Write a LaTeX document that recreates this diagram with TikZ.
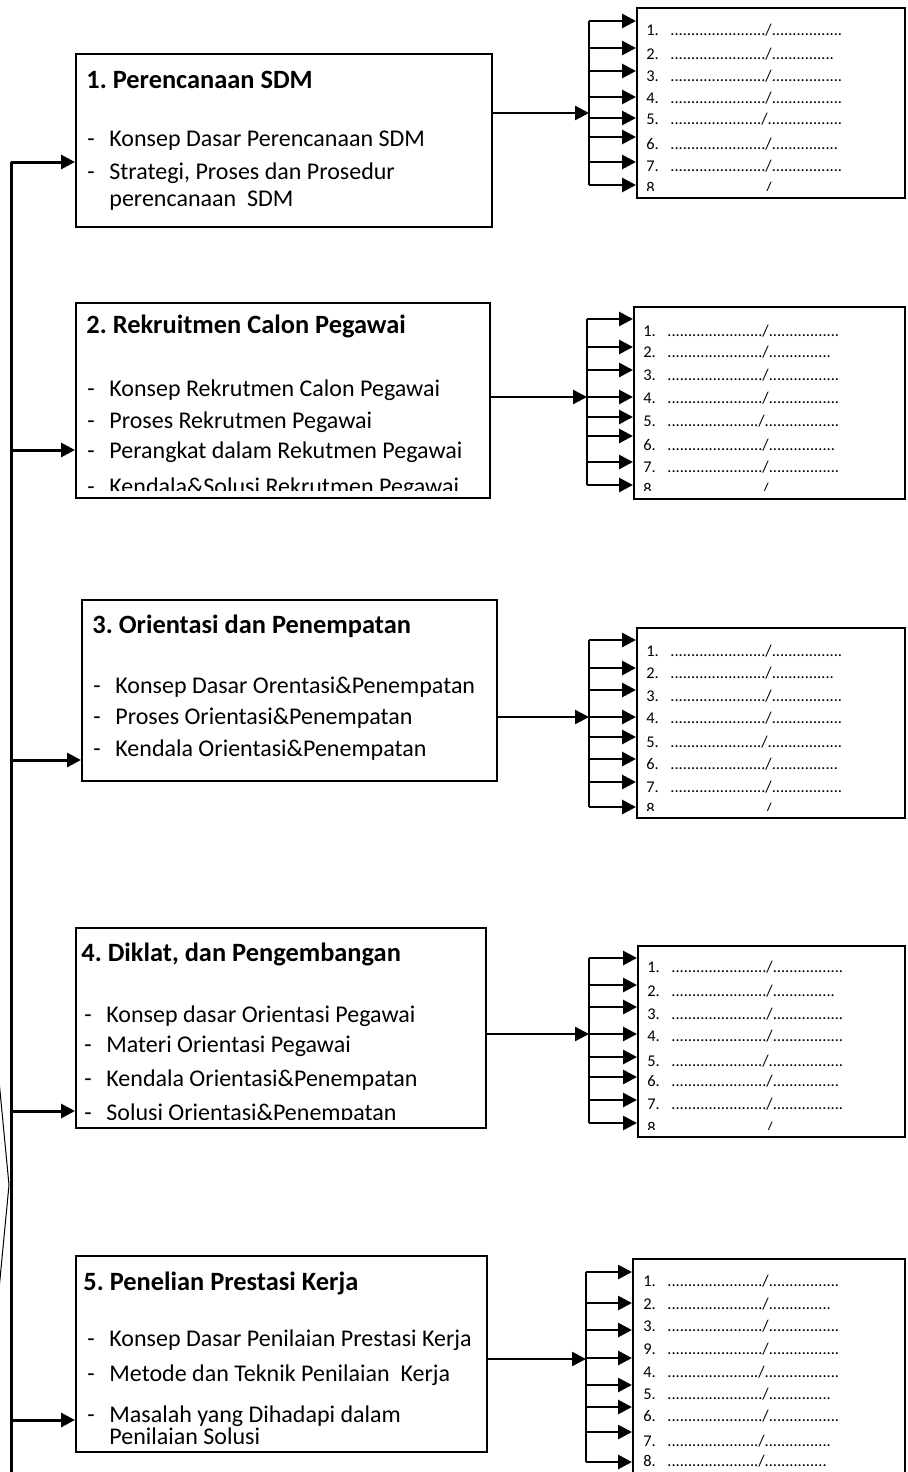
\documentclass[tikz,border=0pt]{standalone}
\usepackage{fontspec}
\setmainfont{Carlito}
\usetikzlibrary{arrows.meta,fit}
\ExplSyntaxOn
\newcommand\dotrun[1]{\prg_replicate:nn{#1}{.}}
\ExplSyntaxOff
\newcommand\dashitem[1]{\makebox[11pt][l]{-}#1}
\frenchspacing
\begin{document}
\begin{tikzpicture}[x=0.5pt,y=-0.5pt,
  box/.style={draw,line width=1pt,inner sep=0pt},
  lbox/.style={draw,line width=1pt,inner sep=0pt},
  ttl/.style={anchor=west,inner sep=0pt,font=\fontsize{13.2}{15}\selectfont\bfseries,text height=9.2pt,text depth=2.6pt},
  itm/.style={anchor=west,inner sep=0pt,font=\fontsize{12}{14}\selectfont,text height=8.4pt,text depth=2.4pt},
  lt/.style={anchor=west,inner sep=0pt,font=\fontsize{8.2}{10}\selectfont,text height=5.6pt,text depth=1.6pt},
  sarr/.style={line width=1.5pt,-{Triangle[length=7pt,width=7pt]}},
  larr/.style={line width=1.4pt,-{Triangle[length=7pt,width=7pt]}},
  oarr/.style={line width=1.2pt,-{Triangle[length=7pt,width=7pt]}},
  bus/.style={line width=1pt},
  spine/.style={line width=1.5pt},
  thin/.style={line width=0.5pt}]
\clip (0,0) rectangle (907,1472);
% ---------- spine ----------
\coordinate (sTop) at (11,162);
\coordinate (sBot) at (11,1472);
\draw[spine] (sTop) -- (sBot);
\coordinate (d1) at (-2,1070);
\coordinate (d2) at (9,1185);
\coordinate (d3) at (-2,1300);
\draw[thin] (d1) -- (d2) -- (d3);

% ================= Section 1 =================
\node[box,fit={(76,54) (492,227)}] (b1) {};
\node[ttl] (t1) at (86,82) {1. Perencanaan SDM};
\node[itm] (i1a) at (87,140) {\dashitem{Konsep Dasar Perencanaan SDM}};
\node[itm] (i1b) at (87,173) {\dashitem{Strategi, Proses dan Prosedur}};
\node[itm] (i1c) at (109,200) {perencanaan\ \ SDM};
\coordinate (s1) at (11,162);
\draw[sarr] (s1) -- (s1 -| b1.west);
\node[lbox,fit={(637,8) (905,198)}] (L1) {};
\coordinate (o1) at (589,113);
\draw[oarr] (o1 -| b1.east) -- (o1);
\foreach \y [count=\k] in {21,48,71,97,118,137,162,185}
  \coordinate (B1-\k) at (589,\y);
\draw[bus] (B1-1) -- (B1-8);
\foreach \k in {1,...,8} \draw[larr] (B1-\k) -- (B1-\k -| L1.west);
\begin{scope}
\clip (637,8) rectangle (905,190);
\foreach \n/\y/\a/\b [count=\k] in {1./31/23/17,2./55/23/15,3./77/23/17,4./99/23/17,5./120/22/18,6./145/23/16,7./167/23/17,8./189/23/17}
  \node[lt] (l1-\k) at (646,\y) {\makebox[12pt][l]{\n}\dotrun{\a}/\dotrun{\b}};
\end{scope}

% ================= Section 2 =================
\node[box,fit={(76,303) (490,498)}] (b2) {};
\begin{scope}
\clip (76,303) rectangle (490,490);
\node[ttl] (t2) at (86,327) {2. Rekruitmen Calon Pegawai};
\node[itm] (i2a) at (87,390) {\dashitem{Konsep Rekrutmen Calon Pegawai}};
\node[itm] (i2b) at (87,422) {\dashitem{Proses Rekrutmen Pegawai}};
\node[itm] (i2c) at (87,452) {\dashitem{Perangkat dalam Rekutmen Pegawai}};
\node[itm] (i2d) at (87,488) {\dashitem{Kendala\&Solusi Rekrutmen Pegawai}};
\end{scope}
\coordinate (s2) at (11,450);
\draw[sarr] (s2) -- (s2 -| b2.west);
\node[lbox,fit={(634,307) (905,499)}] (L2) {};
\coordinate (o2) at (587,397);
\draw[oarr] (o2 -| b2.east) -- (o2);
\foreach \y [count=\k] in {319,347,370,397,417,436,462,485}
  \coordinate (B2-\k) at (587,\y);
\draw[bus] (B2-1) -- (B2-8);
\foreach \k in {1,...,8} \draw[larr] (B2-\k) -- (B2-\k -| L2.west);
\begin{scope}
\clip (634,307) rectangle (905,490);
\foreach \n/\y/\a/\b [count=\k] in {1./332/23/17,2./353/23/15,3./376/23/17,4./399/23/17,5./422/22/18,6./446/23/16,7./468/23/17,8./490/23/17}
  \node[lt] (l2-\k) at (643,\y) {\makebox[12pt][l]{\n}\dotrun{\a}/\dotrun{\b}};
\end{scope}

% ================= Section 3 =================
\node[box,fit={(82,600) (497,781)}] (b3) {};
\node[ttl] (t3) at (92,627) {3. Orientasi dan Penempatan};
\node[itm] (i3a) at (93,687) {\dashitem{Konsep Dasar Orentasi\&Penempatan}};
\node[itm] (i3b) at (93,718) {\dashitem{Proses Orientasi\&Penempatan}};
\node[itm] (i3c) at (93,750) {\dashitem{Kendala Orientasi\&Penempatan}};
\coordinate (s3) at (11,760);
\draw[sarr] (s3) -- (s3 -| b3.west);
\node[lbox,fit={(637,628) (905,818)}] (L3) {};
\coordinate (o3) at (589,717);
\draw[oarr] (o3 -| b3.east) -- (o3);
\foreach \y [count=\k] in {640,668,690,717,737,759,782,807}
  \coordinate (B3-\k) at (589,\y);
\draw[bus] (B3-1) -- (B3-8);
\foreach \k in {1,...,8} \draw[larr] (B3-\k) -- (B3-\k -| L3.west);
\begin{scope}
\clip (637,628) rectangle (905,810);
\foreach \n/\y/\a/\b [count=\k] in {1./652/23/17,2./674/23/15,3./697/23/17,4./719/23/17,5./743/22/18,6./765/23/16,7./788/23/17,8./810/23/17}
  \node[lt] (l3-\k) at (646,\y) {\makebox[12pt][l]{\n}\dotrun{\a}/\dotrun{\b}};
\end{scope}

% ================= Section 4 =================
\node[box,fit={(76,928) (486,1128)}] (b4) {};
\begin{scope}
\clip (76,928) rectangle (486,1119);
\node[ttl] (t4) at (81,955) {4. Diklat, dan Pengembangan};
\node[itm] (i4a) at (84,1016) {\dashitem{Konsep dasar Orientasi Pegawai}};
\node[itm] (i4b) at (84,1046) {\dashitem{Materi Orientasi Pegawai}};
\node[itm] (i4c) at (84,1080) {\dashitem{Kendala Orientasi\&Penempatan}};
\node[itm] (i4d) at (84,1114) {\dashitem{Solusi Orientasi\&Penempatan}};
\end{scope}
\coordinate (s4) at (11,1111);
\draw[sarr] (s4) -- (s4 -| b4.west);
\node[lbox,fit={(638,946) (905,1137)}] (L4) {};
\coordinate (o4) at (589,1034);
\draw[oarr] (o4 -| b4.east) -- (o4);
\foreach \y [count=\k] in {958,985,1007,1034,1057,1077,1100,1123}
  \coordinate (B4-\k) at (589,\y);
\draw[bus] (B4-1) -- (B4-8);
\foreach \k in {1,...,8} \draw[larr] (B4-\k) -- (B4-\k -| L4.west);
\begin{scope}
\clip (638,946) rectangle (905,1129);
\foreach \n/\y/\a/\b [count=\k] in {1./968/23/17,2./992/23/15,3./1015/23/17,4./1037/23/17,5./1062/22/18,6./1082/23/16,7./1105/23/17,8./1129/23/17}
  \node[lt] (l4-\k) at (647,\y) {\makebox[12pt][l]{\n}\dotrun{\a}/\dotrun{\b}};
\end{scope}

% ================= Section 5 =================
\node[box,fit={(76,1256) (487,1452)}] (b5) {};
\node[ttl] (t5) at (83,1284) {5. Penelian Prestasi Kerja};
\node[itm] (i5a) at (87,1340) {\dashitem{Konsep Dasar Penilaian Prestasi Kerja}};
\node[itm] (i5b) at (87,1375) {\dashitem{Metode dan Teknik Penilaian\ \ Kerja}};
\node[itm] (i5c) at (87,1416) {\dashitem{Masalah yang Dihadapi dalam}};
\node[itm] (i5d) at (109,1438) {Penilaian Solusi};
\coordinate (s5) at (11,1420);
\draw[sarr] (s5) -- (s5 -| b5.west);
\node[lbox,fit={(633,1259) (905,1490)}] (L5) {};
\coordinate (o5) at (586,1359);
\draw[oarr] (o5 -| b5.east) -- (o5);
\foreach \y [count=\k] in {1272,1303,1330,1358,1385,1407,1432,1462}
  \coordinate (B5-\k) at (586,\y);
\draw[bus] (B5-1) -- (B5-8);
\foreach \k in {1,...,8} \draw[larr] (B5-\k) -- (B5-\k -| L5.west);
\foreach \n/\y/\a/\b [count=\k] in {1./1282/23/17,2./1305/23/15,3./1327/23/17,9./1350/23/17,4./1373/22/18,5./1395/23/15,6./1417/23/17,7./1442/22/16,8./1462/22/15}
  \node[lt] (l5-\k) at (643,\y) {\makebox[12pt][l]{\n}\dotrun{\a}/\dotrun{\b}};
\end{tikzpicture}
\end{document}
